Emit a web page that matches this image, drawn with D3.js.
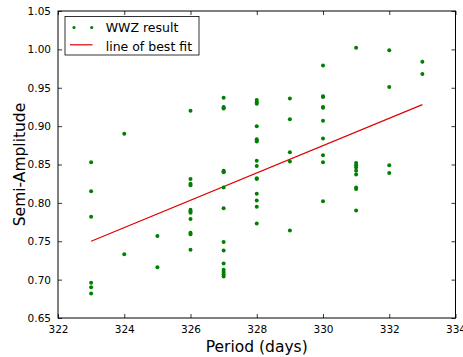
<!DOCTYPE html>
<html>
<head>
<meta charset="utf-8">
<script src="https://cdn.jsdelivr.net/npm/d3@7"></script>
<style>
  body { margin: 0; background: #fff; }
  text { font-family: "DejaVu Sans", sans-serif; }
</style>
</head>
<body>
<script>
// WWZ results: period (days) and semi-amplitude
const periods = [
  323, 323, 323, 323, 323, 323,
  324, 324,
  325, 325,
  326, 326, 326, 326, 326, 326, 326, 326, 326, 326, 326,
  327, 327, 327, 327, 327, 327, 327, 327, 327, 327, 327, 327, 327, 327, 327, 327,
  328, 328, 328, 328, 328, 328, 328, 328, 328, 328, 328, 328, 328, 328, 328,
  329, 329, 329, 329, 329,
  330, 330, 330, 330, 330, 330, 330, 330, 330, 330,
  331, 331, 331, 331, 331, 331, 331, 331, 331,
  332, 332, 332, 332,
  333, 333
];
const amplitudes = [
  0.853, 0.815, 0.782, 0.696, 0.690, 0.682,
  0.890, 0.733,
  0.757, 0.716,
  0.920, 0.831, 0.825, 0.823, 0.791, 0.789, 0.787, 0.779, 0.761, 0.759, 0.739,
  0.937, 0.925, 0.924, 0.923, 0.842, 0.841, 0.840, 0.820, 0.793, 0.749, 0.738, 0.721, 0.713, 0.710, 0.707, 0.704,
  0.934, 0.931, 0.929, 0.900, 0.883, 0.881, 0.880, 0.855, 0.848, 0.832, 0.831, 0.812, 0.803, 0.795, 0.773,
  0.936, 0.909, 0.866, 0.854, 0.764,
  0.979, 0.939, 0.938, 0.925, 0.924, 0.907, 0.884, 0.862, 0.853, 0.802,
  1.002, 0.852, 0.849, 0.846, 0.842, 0.837, 0.820, 0.818, 0.790,
  0.999, 0.951, 0.849, 0.839,
  0.984, 0.968
];
// line of best fit end points
const fitX = [323, 333];
const fitY = [0.750, 0.928];

const xTicks = [322, 324, 326, 328, 330, 332, 334];
const yTicks = [0.65, 0.70, 0.75, 0.80, 0.85, 0.90, 0.95, 1.00, 1.05];

const W = 463, H = 357;
const margin = { top: 11, right: 8, bottom: 39, left: 58 };
const width = 455.5 - margin.left, height = 318 - margin.top;

const svg = d3.select('body').append('svg')
  .attr('width', W)
  .attr('height', H);

const g = svg.append('g')
  .attr('transform', 'translate(' + margin.left + ',' + margin.top + ')');

const x = d3.scaleLinear().domain([322, 334]).range([0, width]);
const y = d3.scaleLinear().domain([0.65, 1.05]).range([height, 0]);

// Axes, matplotlib-style inward ticks on all sides
const tl = 4;
g.append('g')
  .attr('transform', 'translate(0,' + height + ')')
  .call(d3.axisBottom(x).tickValues(xTicks).tickSize(-tl).tickPadding(8).tickFormat(d3.format('d')));
g.append('g')
  .call(d3.axisTop(x).tickValues(xTicks).tickSize(-tl).tickFormat(''));
g.append('g')
  .call(d3.axisLeft(y).tickValues(yTicks).tickSize(-tl).tickPadding(7).tickFormat(d3.format('.2f')));
g.append('g')
  .attr('transform', 'translate(' + width + ',0)')
  .call(d3.axisRight(y).tickValues(yTicks).tickSize(-tl).tickFormat(''));

g.selectAll('.domain').remove();
g.selectAll('.tick line').attr('stroke', '#000').attr('stroke-width', 0.8);
g.selectAll('.tick text').attr('font-size', 10.5).attr('fill', '#000')
  .style('font-family', '"DejaVu Sans", sans-serif');

g.append('rect')
  .attr('width', width).attr('height', height)
  .attr('fill', 'none').attr('stroke', '#000').attr('stroke-width', 1);

// best fit line
g.append('path')
  .datum(d3.zip(fitX, fitY))
  .attr('fill', 'none')
  .attr('stroke', '#e00000')
  .attr('stroke-width', 1.2)
  .attr('d', d3.line().x(d => x(d[0])).y(d => y(d[1])));

// data points
g.selectAll('circle.pt')
  .data(d3.zip(periods, amplitudes))
  .join('circle')
  .attr('class', 'pt')
  .attr('cx', d => x(d[0]))
  .attr('cy', d => y(d[1]))
  .attr('r', 2)
  .attr('fill', '#008000');

// legend
const lg = g.append('g').attr('transform', 'translate(7,5.5)');
lg.append('rect')
  .attr('width', 134).attr('height', 38.5)
  .attr('fill', '#fff').attr('stroke', '#000').attr('stroke-width', 0.8);
lg.append('circle').attr('cx', 9).attr('cy', 11).attr('r', 1.6).attr('fill', '#008000');
lg.append('circle').attr('cx', 26.7).attr('cy', 11).attr('r', 1.6).attr('fill', '#008000');
lg.append('line')
  .attr('x1', 5).attr('x2', 27.5).attr('y1', 28.3).attr('y2', 28.3)
  .attr('stroke', '#e00000').attr('stroke-width', 1.2);
lg.append('text').attr('x', 40.7).attr('y', 15.3).attr('font-size', 12.5).text('WWZ result');
lg.append('text').attr('x', 40.7).attr('y', 34).attr('font-size', 12.5).text('line of best fit');

// axis labels
svg.append('text')
  .attr('x', margin.left + width / 2).attr('y', 352)
  .attr('text-anchor', 'middle').attr('font-size', 15.5)
  .text('Period (days)');
svg.append('text')
  .attr('transform', 'translate(24.5,' + (margin.top + height / 2) + ') rotate(-90)')
  .attr('text-anchor', 'middle').attr('font-size', 15.5)
  .text('Semi-Amplitude');
</script>
</body>
</html>
